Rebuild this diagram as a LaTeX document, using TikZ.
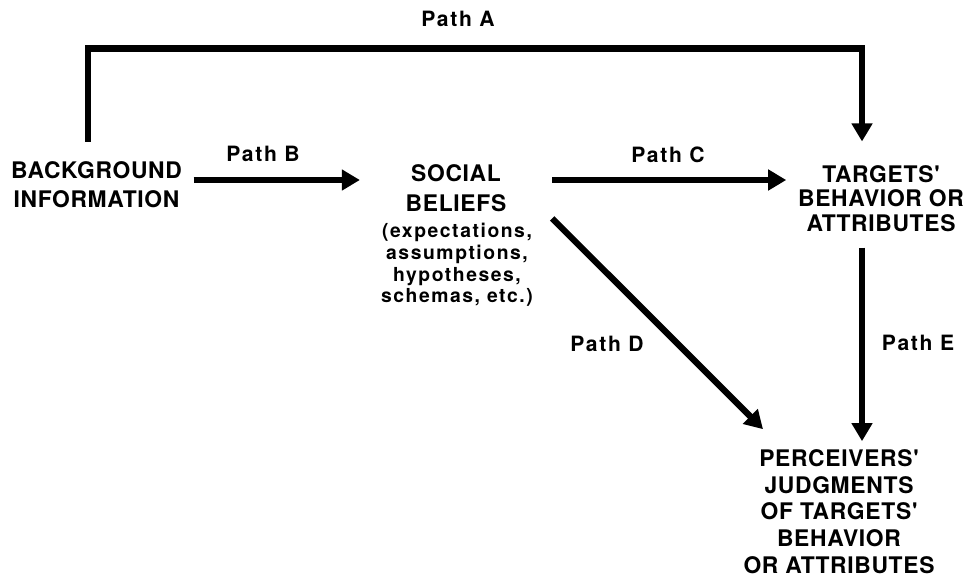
\documentclass[tikz,border=0pt]{standalone}
\usepackage{fontspec}
\setmainfont{TeX Gyre Heros}
\newfontfamily\stagefont{TeX Gyre Heros}[LetterSpace=3]
\newfontfamily\widefont{TeX Gyre Heros}[LetterSpace=8]
\usetikzlibrary{arrows.meta}

\begin{document}
\begin{tikzpicture}[x=0.02cm, y=-0.02cm, >={Triangle[length=0.36cm,width=0.4cm]},
  route/.style={->, line width=3.6pt},
  stage/.style={inner sep=0pt, align=center, font=\stagefont\bfseries\fontsize{13}{#1}\selectfont},
  stage/.default=15.2,
  gloss/.style={inner sep=0pt, align=center, font=\widefont\bfseries\fontsize{11}{12.4}\selectfont},
  lbl/.style={inner sep=0pt, font=\widefont\bfseries\fontsize{12}{14}\selectfont}]
\useasboundingbox (0,0) rectangle (969,579);
\node[stage=16.4] (bg) at (96.5,185) {BACKGROUND\\INFORMATION};
\node[stage=17] (sb) at (456,188.5) {SOCIAL\\BELIEFS};
\node[gloss] (sbn) at (457,265) {(expectations,\\assumptions,\\hypotheses,\\schemas, etc.)};
\node[stage=14] (tb) at (881,198.5) {TARGETS'\\BEHAVIOR OR\\ATTRIBUTES};
\node[stage] (pj) at (839,511.5) {PERCEIVERS'\\JUDGMENTS\\OF TARGETS'\\BEHAVIOR\\OR ATTRIBUTES};
\node[lbl] (pa) at (458,18.5) {Path A};
\node[lbl] (pb) at (263,153.5) {Path B};
\node[lbl] (pc) at (668,154.5) {Path C};
\node[lbl] (pd) at (607,344) {Path D};
\node[lbl] (pe) at (918,343) {Path E};
\draw[route, shorten <=0.4cm, shorten >=0.47cm] ([xshift=-0.17cm]bg.north) -- ++(0,-113) -| ([xshift=-0.38cm]tb.north);
\draw[route, shorten <=0.23cm, shorten >=0.91cm] ([yshift=0.1cm]bg.east) -- ([yshift=0.1cm]bg.east -| sb.west);
\draw[route, shorten <=0.91cm, shorten >=0.23cm] ([yshift=0.17cm]sb.east) -- ([yshift=0.17cm]sb.east -| tb.west);
\draw[route] ([xshift=0.91cm,yshift=-0.12cm]sb.south east) -- ([xshift=-1.52cm,yshift=0.4cm]pj.north);
\draw[route, shorten <=0.31cm, shorten >=0.16cm] ([xshift=-0.38cm]tb.south) -- ([xshift=-0.38cm]tb.south |- pj.north);
\end{tikzpicture}
\end{document}
